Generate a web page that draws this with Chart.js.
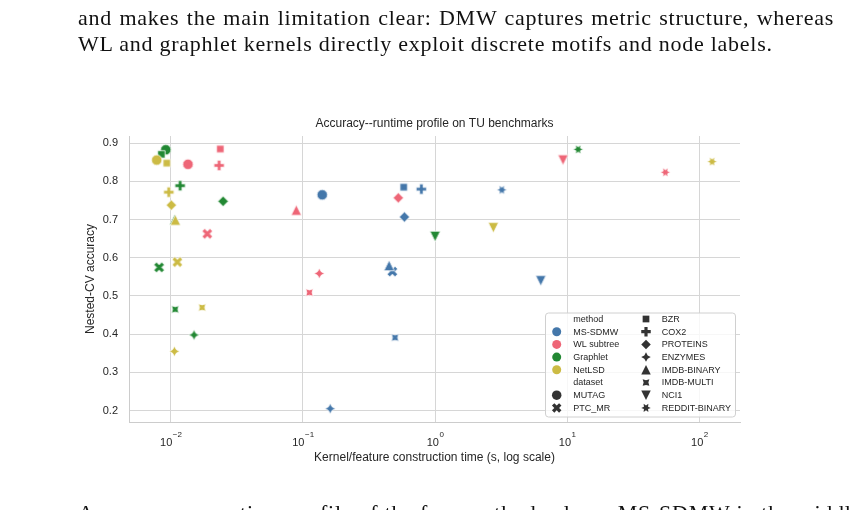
<!DOCTYPE html>
<html lang="en">
<head>
<meta charset="UTF-8">
<title>Accuracy--runtime profile on TU benchmarks</title>
<script src="https://cdn.jsdelivr.net/npm/chart.js"></script>
<style>
  body { margin: 0; width: 853px; height: 510px; overflow: hidden; background: #fff; position: relative; }
  .para { position: absolute; left: 78px; width: 756px; font-family: "Liberation Serif", "DejaVu Serif", serif;
          font-size: 22px; letter-spacing: 0.75px; line-height: 25.5px; color: #111; white-space: nowrap; }
  .just { text-align: justify; text-align-last: justify; }
  #chartBox { position: absolute; left: 0; top: 0; width: 853px; height: 510px; }
</style>
</head>
<body>
<div id="chartBox"><canvas id="chart"></canvas></div>
<div class="para just" style="top:5px">and makes the main limitation clear: DMW captures metric structure, whereas</div>
<div class="para" style="top:30.5px">WL and graphlet kernels directly exploit discrete motifs and node labels.</div>
<div class="para" style="top:500px">An accuracy–runtime profile of the four methods places MS-SDMW in the middle of the cost range.</div>

<script>
// categories
const methods = ['MS-SDMW', 'WL subtree', 'Graphlet', 'NetLSD'];
const datasetNames = ['MUTAG', 'PTC_MR', 'BZR', 'COX2', 'PROTEINS', 'ENZYMES',
                      'IMDB-BINARY', 'IMDB-MULTI', 'NCI1', 'REDDIT-BINARY'];

// runtime (s) and accuracy per method, in datasetNames order
const timeMsSdmw = [0.140, 0.475, 0.579, 0.787, 0.586, 0.161, 0.449, 0.498, 6.31, 3.20];
const accMsSdmw  = [0.765, 0.564, 0.785, 0.780, 0.707, 0.205, 0.580, 0.391, 0.540, 0.778];
const timeWl     = [0.0135, 0.0189, 0.0237, 0.0232, 0.527, 0.133, 0.0891, 0.112, 9.30, 55.3];
const accWl      = [0.845, 0.663, 0.885, 0.842, 0.757, 0.559, 0.725, 0.509, 0.856, 0.824];
const timeGraphlet = [0.00917, 0.00816, 0.00849, 0.01176, 0.0249, 0.0150, 0.0107, 0.0108, 1.00, 12.1];
const accGraphlet  = [0.883, 0.575, 0.871, 0.789, 0.748, 0.398, 0.700, 0.465, 0.656, 0.884];
const timeNetlsd = [0.00783, 0.01122, 0.00933, 0.00966, 0.0101, 0.01065, 0.01083, 0.01726, 2.76, 124.8];
const accNetlsd  = [0.856, 0.589, 0.848, 0.772, 0.738, 0.355, 0.699, 0.470, 0.679, 0.852];

// tick labels
const xTickValues = [0.01, 0.1, 1, 10, 100];
const yTickValues = [0.2, 0.3, 0.4, 0.5, 0.6, 0.7, 0.8, 0.9];

// styles
const methodColors = ['#4477AA', '#EE6677', '#228833', '#CCBB44'];
const datasetMarkers = ['circle', 'xfill', [4, 0, 45], 'plus', [4, 0, 0], [4, 1, 0], 'tri', [4, 1, 45], 'tridown', [6, 1, 30]];
const FONT = '"Liberation Sans", Arial, sans-serif';
const TEXT = '#262626';

function markerPath(ctx, shape, s) {
  const r = s / 2;
  ctx.beginPath();
  if (shape === 'circle') { ctx.arc(0, 0, r, 0, Math.PI * 2); return; }
  let pts;
  if (shape === 'plus') {
    pts = [[-1,-3],[1,-3],[1,-1],[3,-1],[3,1],[1,1],[1,3],[-1,3],[-1,1],[-3,1],[-3,-1],[-1,-1]].map(p => [p[0] * s / 6, p[1] * s / 6]);
  } else if (shape === 'xfill') {
    pts = [[-1,-2],[0,-1],[1,-2],[2,-1],[1,0],[2,1],[1,2],[0,1],[-1,2],[-2,1],[-1,0],[-2,-1]].map(p => [p[0] * s / 4, p[1] * s / 4]);
  } else if (shape === 'tri') {
    pts = [[0, -r], [-r, r], [r, r]];
  } else if (shape === 'tridown') {
    pts = [[0, r], [-r, -r], [r, -r]];
  } else {
    const [n, star, rot] = shape;
    const m = star ? 2 * n : n;
    pts = [];
    for (let i = 0; i < m; i++) {
      const a = Math.PI / 2 + i * 2 * Math.PI / m + rot * Math.PI / 180;
      const rr = star && i % 2 ? r * 0.5 : r;
      pts.push([rr * Math.cos(a), -rr * Math.sin(a)]);
    }
  }
  pts.forEach((p, i) => i ? ctx.lineTo(p[0], p[1]) : ctx.moveTo(p[0], p[1]));
  ctx.closePath();
}

function markerImage(shape, fill, size, edge) {
  const dim = Math.ceil(size) + 4;
  const c = document.createElement('canvas');
  c.width = c.height = dim;
  const g = c.getContext('2d');
  g.translate(dim / 2, dim / 2);
  markerPath(g, shape, size);
  g.fillStyle = fill;
  g.fill();
  if (edge) { g.lineWidth = edge; g.strokeStyle = '#fff'; g.stroke(); }
  return c;
}

const times = [timeMsSdmw, timeWl, timeGraphlet, timeNetlsd];
const accs = [accMsSdmw, accWl, accGraphlet, accNetlsd];

const datasets = methods.map((m, i) => ({
  label: m,
  data: times[i].map((t, j) => ({ x: t, y: accs[i][j] })),
  pointStyle: datasetMarkers.map(mk => markerImage(mk, methodColors[i], 10.5, 0.8)),
  pointRadius: 5,
  order: -i
}));

// seaborn-like legend, drawn inside the axes
const legendPlugin = {
  id: 'sbLegend',
  afterDraw(chart) {
    const ctx = chart.ctx, ca = chart.chartArea;
    const left = ca.right - 195, top = ca.bottom - 109.5, w = 190, h = 104;
    ctx.save();
    ctx.beginPath();
    ctx.roundRect(left + 0.5, top + 0.5, w, h, 3);
    ctx.fillStyle = 'rgba(255,255,255,0.8)';
    ctx.fill();
    ctx.strokeStyle = '#d0d0d0';
    ctx.lineWidth = 1;
    ctx.stroke();
    ctx.font = '9px ' + FONT;
    ctx.textBaseline = 'middle';
    ctx.fillStyle = TEXT;
    const step = 12.7, y0 = top + 6.5;
    const col1 = [{ t: 'method' }]
      .concat(methods.map((m, i) => ({ t: m, mk: 'circle', c: methodColors[i], s: 9 })))
      .concat([{ t: 'dataset' }])
      .concat(datasetNames.slice(0, 2).map((d, j) => ({ t: d, mk: datasetMarkers[j], c: '#333333', s: 9.5 })));
    const col2 = datasetNames.slice(2).map((d, j) => ({ t: d, mk: datasetMarkers[j + 2], c: '#333333', s: 9.5 }));
    [[col1, left + 11.7, left + 28.3], [col2, left + 101, left + 116.7]].forEach(([items, mx, tx]) => {
      items.forEach((it, k) => {
        const y = y0 + k * step;
        if (it.mk) {
          ctx.save();
          ctx.translate(mx, y);
          markerPath(ctx, it.mk, it.s);
          ctx.fillStyle = it.c;
          ctx.fill();
          ctx.restore();
        }
        ctx.fillStyle = TEXT;
        ctx.fillText(it.t, tx, y + 0.5);
      });
    });
    ctx.restore();
  }
};

// 10^n tick labels for the log axis
const logTickPlugin = {
  id: 'logTicks',
  afterDraw(chart) {
    const ctx = chart.ctx, sx = chart.scales.x;
    ctx.save();
    ctx.fillStyle = TEXT;
    ctx.textBaseline = 'alphabetic';
    xTickValues.forEach(v => {
      const px = sx.getPixelForValue(v);
      const e = Math.round(Math.log10(v));
      const base = '10', exp = (e < 0 ? '\u2212' : '') + Math.abs(e);
      ctx.font = '11px ' + FONT;
      const wb = ctx.measureText(base).width;
      ctx.font = '8px ' + FONT;
      const we = ctx.measureText(exp).width;
      const x0 = px - (wb + we) / 2;
      ctx.font = '11px ' + FONT;
      ctx.fillText(base, x0, sx.top + 24);
      ctx.font = '8px ' + FONT;
      ctx.fillText(exp, x0 + wb + 0.5, sx.top + 14.5);
    });
    ctx.restore();
  }
};

new Chart(document.getElementById('chart'), {
  type: 'scatter',
  data: { datasets },
  plugins: [legendPlugin, logTickPlugin],
  options: {
    responsive: true,
    maintainAspectRatio: false,
    animation: false,
    layout: { padding: { left: 79, right: 113, top: 110, bottom: 43 } },
    plugins: {
      legend: { display: false },
      tooltip: { enabled: false },
      title: {
        display: true, fullSize: false,
        text: 'Accuracy--runtime profile on TU benchmarks',
        color: TEXT, font: { family: FONT, size: 12, weight: 'normal' },
        padding: { top: 6, bottom: 5.6 }
      }
    },
    scales: {
      x: {
        type: 'logarithmic', min: 0.00483, max: 203,
        afterBuildTicks: s => { s.ticks = xTickValues.map(v => ({ value: v })); },
        afterFit: s => { s.height = 45; },
        grid: { color: '#d6d6d6', lineWidth: 1, drawTicks: false },
        border: { display: true, color: '#cccccc', width: 1 },
        ticks: { display: false },
        title: {
          display: true, text: 'Kernel/feature construction time (s, log scale)',
          color: TEXT, font: { family: FONT, size: 12 }, padding: { top: 0, bottom: 1.8 }
        }
      },
      y: {
        type: 'linear', min: 0.17, max: 0.919,
        afterBuildTicks: s => { s.ticks = yTickValues.map(v => ({ value: v })); },
        afterFit: s => { s.width = 50; },
        grid: { color: '#d6d6d6', lineWidth: 1, drawTicks: false },
        border: { display: true, color: '#cccccc', width: 1 },
        ticks: { padding: 11, color: TEXT, font: { family: FONT, size: 11 }, callback: v => v.toFixed(1) },
        title: {
          display: true, text: 'Nested-CV accuracy',
          color: TEXT, font: { family: FONT, size: 12 }, padding: { top: 4, bottom: 0 }
        }
      }
    }
  }
});
</script>
</body>
</html>
